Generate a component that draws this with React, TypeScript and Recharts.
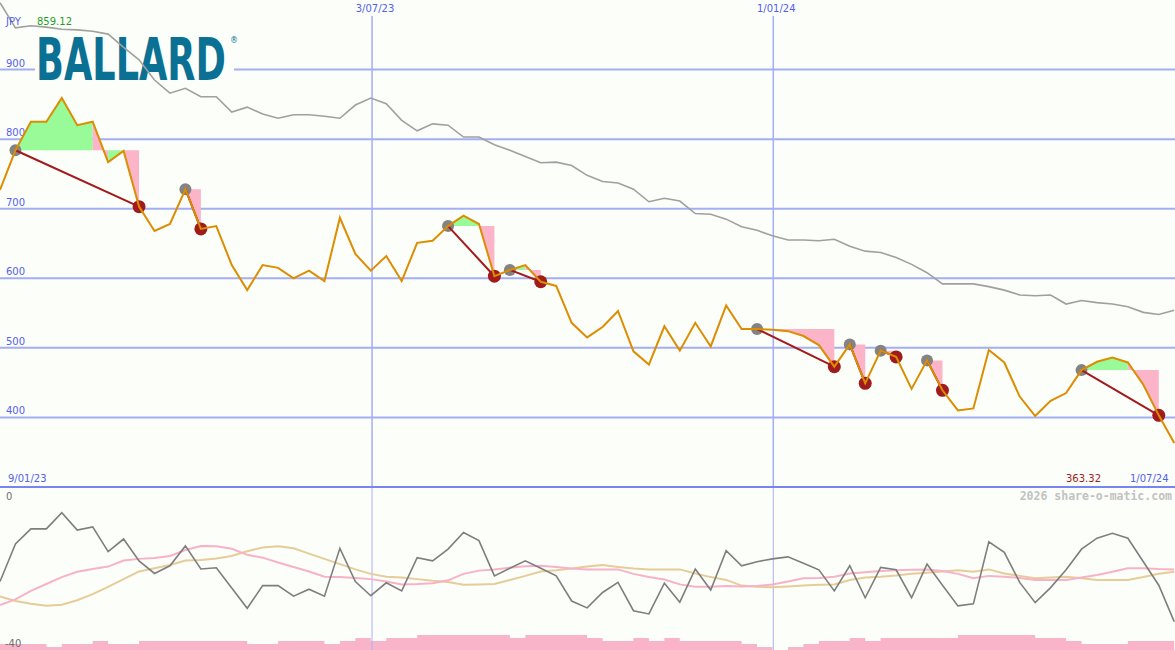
import { Area, ComposedChart, Line, ReferenceLine, XAxis, YAxis } from 'recharts';

// weekly closes, JPY
const PRICE = [
  727, 784, 825, 825, 859.12, 820, 825, 767, 783, 703,
  668, 678, 728, 671, 675, 619, 583, 619, 615, 600,
  611, 596, 687, 635, 611, 632, 596, 651, 654, 675,
  690, 678, 603, 612, 619, 595, 589, 536, 515, 530,
  553, 495, 476, 531, 496, 536, 502, 561, 527, 527,
  526, 524, 517, 504, 473, 505, 449, 496, 487, 441,
  482, 439, 410, 413, 497, 479, 430, 402, 424, 435,
  468, 480, 486, 479, 447, 403, 363.32,
];

// long moving average (grey)
const TREND = [
  996, 960, 963, 961, 958, 957, 955, 951, 932, 914,
  885, 866, 873, 861, 861, 839, 846, 836, 830, 835,
  835, 833, 830, 849, 859, 851, 827, 812, 822, 820,
  803, 803, 792, 784, 775, 766, 767, 762, 748, 739,
  737, 728, 710, 715, 711, 693, 692, 685, 674, 669,
  661, 655, 655, 654, 656, 646, 639, 637, 630, 620,
  608, 592, 592, 592, 588, 583, 576, 575, 576, 563,
  568, 565, 563, 559, 551, 548, 554,
];

// lower panel oscillator and its two averages
const OSC = [
  -23.1, -13.8, -10.1, -10.1, -6.1, -10.4, -9.6, -15.7, -12.6, -18.0,
  -21.1, -19.2, -14.3, -20.0, -19.7, -24.7, -29.7, -24.1, -24.1, -26.7,
  -25.0, -26.7, -14.9, -23.1, -26.6, -23.4, -25.4, -17.2, -18.0, -15.1,
  -11.0, -13.0, -21.7, -19.8, -18.0, -19.8, -21.7, -27.9, -29.6, -25.8,
  -23.3, -30.3, -31.1, -23.5, -28.2, -20.0, -25.2, -15.5, -19.2, -18.2,
  -17.5, -17.0, -18.6, -20.2, -25.4, -19.2, -27.1, -19.6, -20.2, -27.1,
  -18.8, -24.0, -29.1, -28.6, -13.3, -15.9, -23.3, -28.3, -24.6, -20.2,
  -15.1, -12.4, -11.2, -12.4, -18.2, -24.0, -33.0,
];

const OSC_FAST = [
  -28.9, -27.5, -25.4, -23.7, -22.0, -20.7, -20.0, -19.4, -17.9, -17.5,
  -17.3, -16.8, -15.3, -14.3, -14.4, -15.0, -16.5, -17.2, -18.4, -19.5,
  -20.6, -21.9, -22.0, -22.2, -22.5, -23.1, -23.8, -23.7, -23.5, -22.8,
  -21.2, -20.4, -20.1, -19.7, -19.3, -19.2, -19.5, -19.9, -20.1, -20.1,
  -20.1, -21.2, -22.0, -22.6, -23.8, -24.4, -24.4, -24.2, -24.3, -24.2,
  -23.8, -23.1, -22.3, -22.2, -21.9, -21.1, -20.8, -20.5, -20.3, -20.2,
  -20.1, -20.5, -21.2, -22.3, -21.7, -21.9, -22.2, -22.7, -22.7, -22.7,
  -22.1, -21.5, -20.7, -19.8, -19.8, -20.0, -20.1,
];

const OSC_SLOW = [
  -26.8, -27.9, -28.6, -29.1, -28.8, -27.7, -26.2, -24.4, -22.5, -20.6,
  -19.8, -19.0, -17.9, -17.8, -17.4, -16.8, -15.6, -14.7, -14.4, -14.9,
  -16.2, -17.5, -18.8, -20.1, -21.2, -21.9, -22.1, -22.5, -22.9, -23.2,
  -23.9, -23.8, -23.7, -22.7, -21.7, -20.6, -20.3, -19.9, -19.4, -19.0,
  -19.5, -19.9, -20.1, -20.1, -20.1, -21.1, -22.0, -22.7, -24.1, -24.4,
  -24.5, -24.3, -24.1, -23.9, -23.8, -22.7, -22.1, -21.9, -21.6, -21.2,
  -20.9, -20.6, -20.3, -20.7, -20.1, -21.1, -21.7, -22.3, -22.1, -21.9,
  -22.3, -22.7, -22.7, -22.7, -22.0, -21.2, -20.7,
];

// relative volume level per week
const VOLUME = [
  2, 2, 2, 1, 2, 2, 3, 2, 2, 3,
  3, 3, 3, 3, 3, 3, 2, 2, 3, 3,
  3, 2, 3, 4, 3, 4, 4, 5, 5, 5,
  5, 5, 5, 4, 5, 5, 5, 5, 4, 3,
  3, 4, 3, 4, 3, 3, 3, 3, 2, 1,
  0, 1, 2, 3, 3, 4, 3, 4, 4, 4,
  4, 4, 5, 5, 5, 5, 5, 4, 4, 3,
  2, 2, 2, 3, 3, 3, 3,
];

// trades: entry week (grey dot) and exit week (red dot)
const BUY_WEEKS = [1, 12, 29, 33, 49, 55, 57, 60, 70];
const SELL_WEEKS = [9, 13, 32, 35, 54, 56, 58, 61, 75];

// shaded runs inside trades
const RUN_TRADE = [0, 0, 0, 0, 1, 2, 2, 3, 3, 4, 5, 6, 7, 8, 8];
const RUN_FROM = [1, 6, 7, 8, 12, 29, 31, 33, 34, 49, 55, 57, 60, 70, 73];
const RUN_TO = [6, 7, 8, 9, 13, 31, 32, 34, 35, 54, 56, 58, 61, 73, 75];
const RUN_GAIN = [true, false, true, false, false, true, false, true, false, false, false, false, false, true, false];

const PRICE_TICKS = [400, 500, 600, 700, 800, 900];
const DATE_LABELS = ['3/07/23', '1/01/24'];
const DATE_WEEKS = [24.08, 50.05];
const FIRST_DATE = '9/01/23';
const LAST_DATE = '1/07/24';
const CURRENCY = 'JPY';

const BG = '#fcfefa';
const GRID = '#a4aef4';
const AXIS = '#7a84ee';
const LABEL = '#5560ee';
const FONT = '"DejaVu Sans", sans-serif';

const xDomain: [number, number] = [0, 76.05];
const yDomain: [number, number] = [300, 1000];
const topMargin = { top: 0, right: 0, bottom: 2, left: 0 };

export default function App() {
  const rows = PRICE.map((p, k) => ({
    k,
    price: p,
    trend: TREND[k],
    osc: OSC[k],
    fast: OSC_FAST[k],
    slow: OSC_SLOW[k],
    vol: VOLUME[k],
  }));
  const high = Math.max(...PRICE).toFixed(2);
  const last = PRICE[PRICE.length - 1].toFixed(2);

  const tickLabel = (value: number) => (props: any) => {
    const vb = props.viewBox || {};
    return (
      <text x={(vb.x ?? 0) + 6} y={(vb.y ?? 0) - 3} fill={LABEL} fontSize={10} fontFamily={FONT}>
        {value}
      </text>
    );
  };
  const dateLabel = (value: string) => (props: any) => {
    const vb = props.viewBox || {};
    return (
      <text x={(vb.x ?? 0) + 3} y={(vb.y ?? 0) - 4} fill={LABEL} fontSize={10} fontFamily={FONT} textAnchor="middle">
        {value}
      </text>
    );
  };

  const layer = { position: 'absolute' as const, left: 0, top: 0 };

  return (
    <div style={{ position: 'relative', width: 1175, height: 650, background: BG, overflow: 'hidden' }}>
      <style>{'body{margin:0}'}</style>

      {/* grid layer */}
      <div style={layer}>
        <ComposedChart width={1175} height={489} data={rows} margin={topMargin}>
          <XAxis dataKey="k" type="number" domain={xDomain} hide allowDataOverflow />
          <YAxis type="number" domain={yDomain} hide allowDataOverflow />
          {PRICE_TICKS.map((t) => (
            <ReferenceLine key={t} y={t} stroke={GRID} strokeWidth={2} label={tickLabel(t)} />
          ))}
          {DATE_WEEKS.map((w, i) => (
            <ReferenceLine
              key={DATE_LABELS[i]}
              segment={[{ x: w, y: 977 }, { x: w, y: 300 }]}
              stroke={GRID}
              strokeWidth={1.5}
              label={dateLabel(DATE_LABELS[i])}
            />
          ))}
          <ReferenceLine y={300} stroke={AXIS} strokeWidth={2} />
        </ComposedChart>
      </div>

      {/* logo */}
      <svg style={{ position: 'absolute', left: 35, top: 13 }} width={215} height={80}>
        <rect x={0} y={20} width={199} height={52} fill={BG} />
        <g transform="scale(1,1.62)">
          <text
            x={1}
            y={41.4}
            fill="#0b7194"
            fontSize={36}
            fontWeight={700}
            fontFamily={FONT}
            textLength={190}
            lengthAdjust="spacingAndGlyphs"
          >
            BALLARD
          </text>
        </g>
        <text x={195} y={30} fill="#0b7194" fontSize={8} fontFamily={FONT}>
          ®
        </text>
      </svg>

      {/* profit / loss shading */}
      <div style={layer}>
        <ComposedChart width={1175} height={489} data={rows} margin={topMargin}>
          <XAxis dataKey="k" type="number" domain={xDomain} hide allowDataOverflow />
          <YAxis type="number" domain={yDomain} hide allowDataOverflow />
          {RUN_FROM.map((from, i) => {
            const to = RUN_TO[i];
            const level = PRICE[BUY_WEEKS[RUN_TRADE[i]]];
            return (
              <Area
                key={'run' + i}
                type="linear"
                dataKey={(r: any) => (r.k >= from && r.k <= to ? r.price : null)}
                baseValue={level}
                stroke="none"
                fill={RUN_GAIN[i] ? '#98fb98' : '#fbb4c8'}
                fillOpacity={1}
                dot={false}
                activeDot={false}
                isAnimationActive={false}
              />
            );
          })}
        </ComposedChart>
      </div>

      {/* entry / exit dots */}
      <div style={layer}>
        <ComposedChart width={1175} height={489} data={rows} margin={topMargin}>
          <XAxis dataKey="k" type="number" domain={xDomain} hide allowDataOverflow />
          <YAxis type="number" domain={yDomain} hide allowDataOverflow />
          <Line
            dataKey={(r: any) => (BUY_WEEKS.includes(r.k) ? r.price : null)}
            stroke="none"
            dot={{ r: 6, fill: '#838383', stroke: 'none' }}
            activeDot={false}
            isAnimationActive={false}
          />
          <Line
            dataKey={(r: any) => (SELL_WEEKS.includes(r.k) ? r.price : null)}
            stroke="none"
            dot={{ r: 6.5, fill: '#a01b1b', stroke: 'none' }}
            activeDot={false}
            isAnimationActive={false}
          />
        </ComposedChart>
      </div>

      {/* trade lines, average and price */}
      <div style={layer}>
        <ComposedChart width={1175} height={489} data={rows} margin={topMargin}>
          <XAxis dataKey="k" type="number" domain={xDomain} hide allowDataOverflow />
          <YAxis type="number" domain={yDomain} hide allowDataOverflow />
          {BUY_WEEKS.map((b, i) => (
            <Line
              key={'trade' + i}
              type="linear"
              dataKey={(r: any) => (r.k === b || r.k === SELL_WEEKS[i] ? r.price : null)}
              connectNulls
              stroke="#a3191c"
              strokeWidth={2}
              dot={false}
              activeDot={false}
              isAnimationActive={false}
            />
          ))}
          <Line type="linear" dataKey="trend" stroke="#a0a0a0" strokeWidth={1.6} dot={false} activeDot={false} isAnimationActive={false} />
          <Line type="linear" dataKey="price" stroke="#dc8d02" strokeWidth={2} dot={false} activeDot={false} isAnimationActive={false} />
        </ComposedChart>
      </div>

      {/* lower panel */}
      <div style={{ position: 'absolute', left: 0, top: 488 }}>
        <ComposedChart width={1175} height={162} data={rows} margin={{ top: 0, right: 0, bottom: 0, left: 0 }}>
          <XAxis dataKey="k" type="number" domain={xDomain} hide allowDataOverflow />
          <YAxis yAxisId="osc" type="number" domain={[-40, 0]} hide allowDataOverflow />
          <YAxis yAxisId="vol" type="number" domain={[0, 54]} hide allowDataOverflow />
          <Area
            yAxisId="vol"
            type="stepAfter"
            dataKey="vol"
            stroke="none"
            fill="#f9b4c9"
            fillOpacity={1}
            dot={false}
            activeDot={false}
            isAnimationActive={false}
          />
          {DATE_WEEKS.map((w) => (
            <ReferenceLine key={w} yAxisId="osc" x={w} stroke="#a9b1f3" strokeWidth={1} />
          ))}
          <Line yAxisId="osc" type="linear" dataKey="slow" stroke="#e6cc98" strokeWidth={2} dot={false} activeDot={false} isAnimationActive={false} />
          <Line yAxisId="osc" type="linear" dataKey="fast" stroke="#f8b2c8" strokeWidth={2} dot={false} activeDot={false} isAnimationActive={false} />
          <Line yAxisId="osc" type="linear" dataKey="osc" stroke="#7e7e7e" strokeWidth={1.6} dot={false} activeDot={false} isAnimationActive={false} />
        </ComposedChart>
      </div>

      {/* text labels */}
      <svg style={{ position: 'absolute', left: 0, top: 0, pointerEvents: 'none' }} width={1175} height={650}>
        <text x={6} y={25} fill={LABEL} fontSize={10} fontFamily={FONT}>{CURRENCY}</text>
        <text x={37} y={25} fill="#1e9e1e" fontSize={10} fontFamily={FONT}>{high}</text>
        <text x={8} y={482} fill={LABEL} fontSize={10} fontFamily={FONT}>{FIRST_DATE}</text>
        <text x={1066} y={482} fill="#a01b1b" fontSize={10} fontFamily={FONT}>{last}</text>
        <text x={1130} y={482} fill={LABEL} fontSize={10} fontFamily={FONT}>{LAST_DATE}</text>
        <text
          x={1172}
          y={500}
          fill="#c2c2c2"
          fontSize={11.5}
          fontWeight={700}
          fontFamily='"DejaVu Sans Mono", monospace'
          textAnchor="end"
        >
          2026 share-o-matic.com
        </text>
        <text x={6} y={500} fill="#707070" fontSize={10} fontFamily={FONT}>0</text>
        <text x={5} y={647} fill="#707070" fontSize={10} fontFamily={FONT}>-40</text>
      </svg>
    </div>
  );
}
